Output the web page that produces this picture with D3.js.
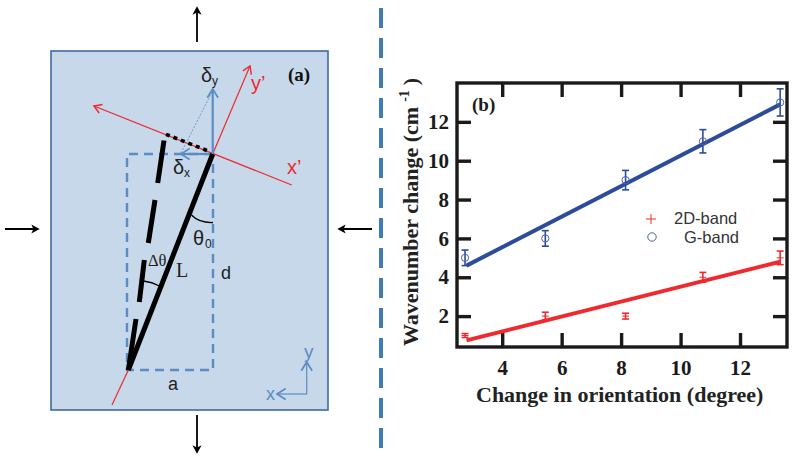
<!DOCTYPE html>
<html>
<head>
<meta charset="utf-8">
<style>
html,body{margin:0;padding:0;background:#fff;}
svg{display:block;}
.ser{font-family:"Liberation Serif",serif;}
.san{font-family:"Liberation Sans",sans-serif;}
</style>
<script src="https://cdnjs.cloudflare.com/ajax/libs/d3/7.8.5/d3.min.js"></script>
</head>
<body>
<div id="chart"></div>
<script>
// panel (b) values
var orientation = [2.75, 5.45, 8.15, 10.75, 13.35];
var gBand = [5, 6, 9, 11, 13];
var gErr = [0.4, 0.4, 0.5, 0.6, 0.7];
var band2D = [1, 2, 2, 4, 5];
var err2D = [0.1, 0.2, 0.15, 0.25, 0.35];
var gFit = [[2.8, 4.6], [13.35, 12.9]];
var fit2D = [[2.8, 0.75], [13.35, 4.8]];
var xTicks = [4, 6, 8, 10, 12];
var yTicks = [2, 4, 6, 8, 10, 12];

// panel (a) schematic, in page pixels
var dashSegs = [[128.3,370,136,319],[139.3,302,144.3,260],[148.3,243,155,200],[157.7,183,164,140.5]];
var pushArrows = [[197,42,197,8],[197,415,197,452],[5,229,38,229],[372,229,339,229]];

var red = "#ee2a2f", blue = "#2c4b9b", lightBlue = "#5b8cc4", ink = "#1a1a1a";

var svg = d3.select("#chart").append("svg").attr("width", 795).attr("height", 461);

var defs = svg.append("defs");
function marker(id, color, w){
	defs.append("marker").attr("id", id)
		.attr("viewBox", "-10 -6 12 12").attr("refX", 0).attr("refY", 0)
		.attr("markerWidth", w).attr("markerHeight", w).attr("markerUnits", "userSpaceOnUse")
		.attr("orient", "auto")
		.append("path").attr("d", "M-8,-5L0,0L-8,5")
		.attr("fill", "none").attr("stroke", color).attr("stroke-width", 1.6);
}
marker("arrRed", red, 11);
marker("arrBlue", lightBlue, 13);
defs.append("marker").attr("id", "arrBlack")
	.attr("viewBox", "-10 -6 12 12").attr("refX", -2).attr("refY", 0)
	.attr("markerWidth", 10).attr("markerHeight", 10).attr("markerUnits", "userSpaceOnUse")
	.attr("orient", "auto")
	.append("path").attr("d", "M-10,-5.5L0,0L-10,5.5L-7.5,0Z").attr("fill", "#000");

function line(g, x1, y1, x2, y2, color, w){
	return g.append("line").attr("x1", x1).attr("y1", y1).attr("x2", x2).attr("y2", y2)
		.attr("stroke", color).attr("stroke-width", w);
}
function label(g, x, y, txt, cls, size, color){
	return g.append("text").attr("x", x).attr("y", y).attr("class", cls)
		.attr("font-size", size).attr("fill", color || ink).text(txt);
}

// ---- panel (a)
var a = svg.append("g");
a.append("rect").attr("x", 51).attr("y", 51).attr("width", 277).attr("height", 359)
	.attr("fill", "#c6d8ea").attr("stroke", "#3f6c9e").attr("stroke-width", 1.6);

pushArrows.forEach(function(d){
	line(a, d[0], d[1], d[2], d[3], "#000", 1.8).attr("marker-end", "url(#arrBlack)");
});

a.append("path").attr("d", "M213,154H127V370H213Z").attr("fill", "none")
	.attr("stroke", lightBlue).attr("stroke-width", 2.4).attr("stroke-dasharray", "9 6");

line(a, 112, 405, 128.3, 370, red, 1.2);
line(a, 212.7, 154, 250, 66, red, 1.2).attr("marker-end", "url(#arrRed)");
line(a, 291.7, 185, 94, 106, red, 1.2).attr("marker-end", "url(#arrRed)");

line(a, 212.7, 154, 212.7, 89, lightBlue, 2.2).attr("marker-end", "url(#arrBlue)");
line(a, 212.7, 154, 181, 154, lightBlue, 2.2).attr("marker-end", "url(#arrBlue)");
line(a, 181, 153, 212, 92, lightBlue, 0.8).attr("stroke-dasharray", "2 1.5");

line(a, 128.3, 370, 212.7, 154, "#000", 5);
dashSegs.forEach(function(d){ line(a, d[0], d[1], d[2], d[3], "#000", 5); });
line(a, 166, 134.3, 210, 151.7, "#000", 3.6).attr("stroke-dasharray", "4 4");

a.append("path").attr("d", "M191.5,215Q199,223 213,222.5").attr("fill", "none").attr("stroke", "#000").attr("stroke-width", 1.3);
a.append("path").attr("d", "M143.5,281Q152,282 159.5,286").attr("fill", "none").attr("stroke", "#000").attr("stroke-width", 1.3);

line(a, 306.7, 394, 306.7, 362, lightBlue, 1.2).attr("marker-end", "url(#arrBlue)");
line(a, 306.7, 394, 277, 394, lightBlue, 1.2).attr("marker-end", "url(#arrBlue)");

label(a, 201, 82, "δ", "san", 20, "#222");
label(a, 212, 85, "y", "san", 12, "#222");
label(a, 173, 174, "δ", "san", 20, "#222");
label(a, 184, 177, "x", "san", 12, "#222");
label(a, 251, 90, "y’", "san", 20, red);
label(a, 287, 174, "x’", "san", 20, red);
label(a, 288, 81, "(a)", "ser", 19, "#111").attr("font-weight", "bold");
label(a, 193, 245, "θ", "san", 20, "#222");
label(a, 205, 248, "0", "san", 12, "#222");
label(a, 148, 266, "Δθ", "ser", 16.5, "#222");
label(a, 176, 277, "L", "ser", 20, "#222");
label(a, 221, 279, "d", "san", 18, "#222");
label(a, 168, 390, "a", "san", 18, "#222");
label(a, 266, 400, "x", "san", 18, lightBlue);
label(a, 304, 358, "y", "san", 19, lightBlue);

// separator
line(svg, 381, 8, 381, 455, "#3f7cb6", 4).attr("stroke-dasharray", "20 10");

// ---- panel (b)
var plot = {left: 457, right: 787, top: 83, bottom: 347};
var x = d3.scaleLinear().domain([2.48, 13.58]).range([plot.left, plot.right]);
var y = d3.scaleLinear().domain([0.41, 14]).range([plot.bottom, plot.top]);

var b = svg.append("g");

function styleAxis(g){
	g.select(".domain").remove();
	g.selectAll("line").attr("stroke", ink).attr("stroke-width", 3.4);
	g.selectAll("text").attr("class", "ser").attr("font-size", 21)
		.attr("font-weight", "bold").attr("fill", ink);
}
b.append("g").attr("transform", "translate(0," + plot.bottom + ")")
	.call(d3.axisBottom(x).tickValues(xTicks).tickSize(-14).tickPadding(13).tickFormat(d3.format("d")))
	.call(styleAxis);
b.append("g").attr("transform", "translate(0," + plot.top + ")")
	.call(d3.axisTop(x).tickValues(xTicks).tickSize(-14).tickFormat(""))
	.call(styleAxis);
b.append("g").attr("transform", "translate(" + plot.left + ",0)")
	.call(d3.axisLeft(y).tickValues(yTicks).tickSize(-14).tickPadding(8).tickFormat(d3.format("d")))
	.call(styleAxis);
b.append("g").attr("transform", "translate(" + plot.right + ",0)")
	.call(d3.axisRight(y).tickValues(yTicks).tickSize(-14).tickFormat(""))
	.call(styleAxis);

b.append("rect").attr("x", plot.left).attr("y", plot.top)
	.attr("width", plot.right - plot.left).attr("height", plot.bottom - plot.top)
	.attr("fill", "none").attr("stroke", ink).attr("stroke-width", 3.4);

var fitLine = d3.line().x(function(d){ return x(d[0]); }).y(function(d){ return y(d[1]); });
b.append("path").attr("d", fitLine(fit2D)).attr("fill", "none").attr("stroke", red).attr("stroke-width", 4);
b.append("path").attr("d", fitLine(gFit)).attr("fill", "none").attr("stroke", blue).attr("stroke-width", 4);

function errorBars(vals, errs, color, cap){
	var g = b.append("g").attr("stroke", color).attr("stroke-width", 1.6).attr("fill", "none");
	vals.forEach(function(v, i){
		var cx = x(orientation[i]);
		line(g, cx, y(v - errs[i]), cx, y(v + errs[i]), color, 1.6);
		line(g, cx - cap, y(v - errs[i]), cx + cap, y(v - errs[i]), color, 1.6);
		line(g, cx - cap, y(v + errs[i]), cx + cap, y(v + errs[i]), color, 1.6);
	});
	return g;
}
var gBars = errorBars(gBand, gErr, blue, 3.5);
gBand.forEach(function(v, i){
	gBars.append("circle").attr("cx", x(orientation[i])).attr("cy", y(v)).attr("r", 3.6)
		.attr("stroke", "#4a62ac").attr("stroke-width", 1);
});
var rBars = errorBars(band2D, err2D, red, 3.5);
band2D.forEach(function(v, i){
	var cx = x(orientation[i]);
	line(rBars, cx - 3.5, y(v), cx + 3.5, y(v), red, 1);
});

line(b, 646, 219, 656, 219, red, 1);
line(b, 651, 214, 651, 224, red, 1);
b.append("circle").attr("cx", 652).attr("cy", 237).attr("r", 4.2).attr("fill", "none")
	.attr("stroke", "#4a62ac").attr("stroke-width", 1);
label(b, 674, 224, "2D-band", "san", 16.5, "#333");
label(b, 684, 243, "G-band", "san", 16.5, "#333");

label(b, 472, 111, "(b)", "ser", 19, ink).attr("font-weight", "bold");

label(b, 476, 402, "Change in orientation (degree)", "ser", 22, "#222").attr("font-weight", "bold");

var yt = b.append("text").attr("class", "ser").attr("font-size", 22).attr("font-weight", "bold")
	.attr("fill", "#222").attr("transform", "translate(418,346) rotate(-90)");
yt.append("tspan").text("Wavenumber change (cm");
yt.append("tspan").attr("font-size", 14).attr("dy", -9).attr("dx", 5).text("-1");
yt.append("tspan").attr("dy", 9).attr("dx", 5).text(")");
</script>
</body>
</html>
